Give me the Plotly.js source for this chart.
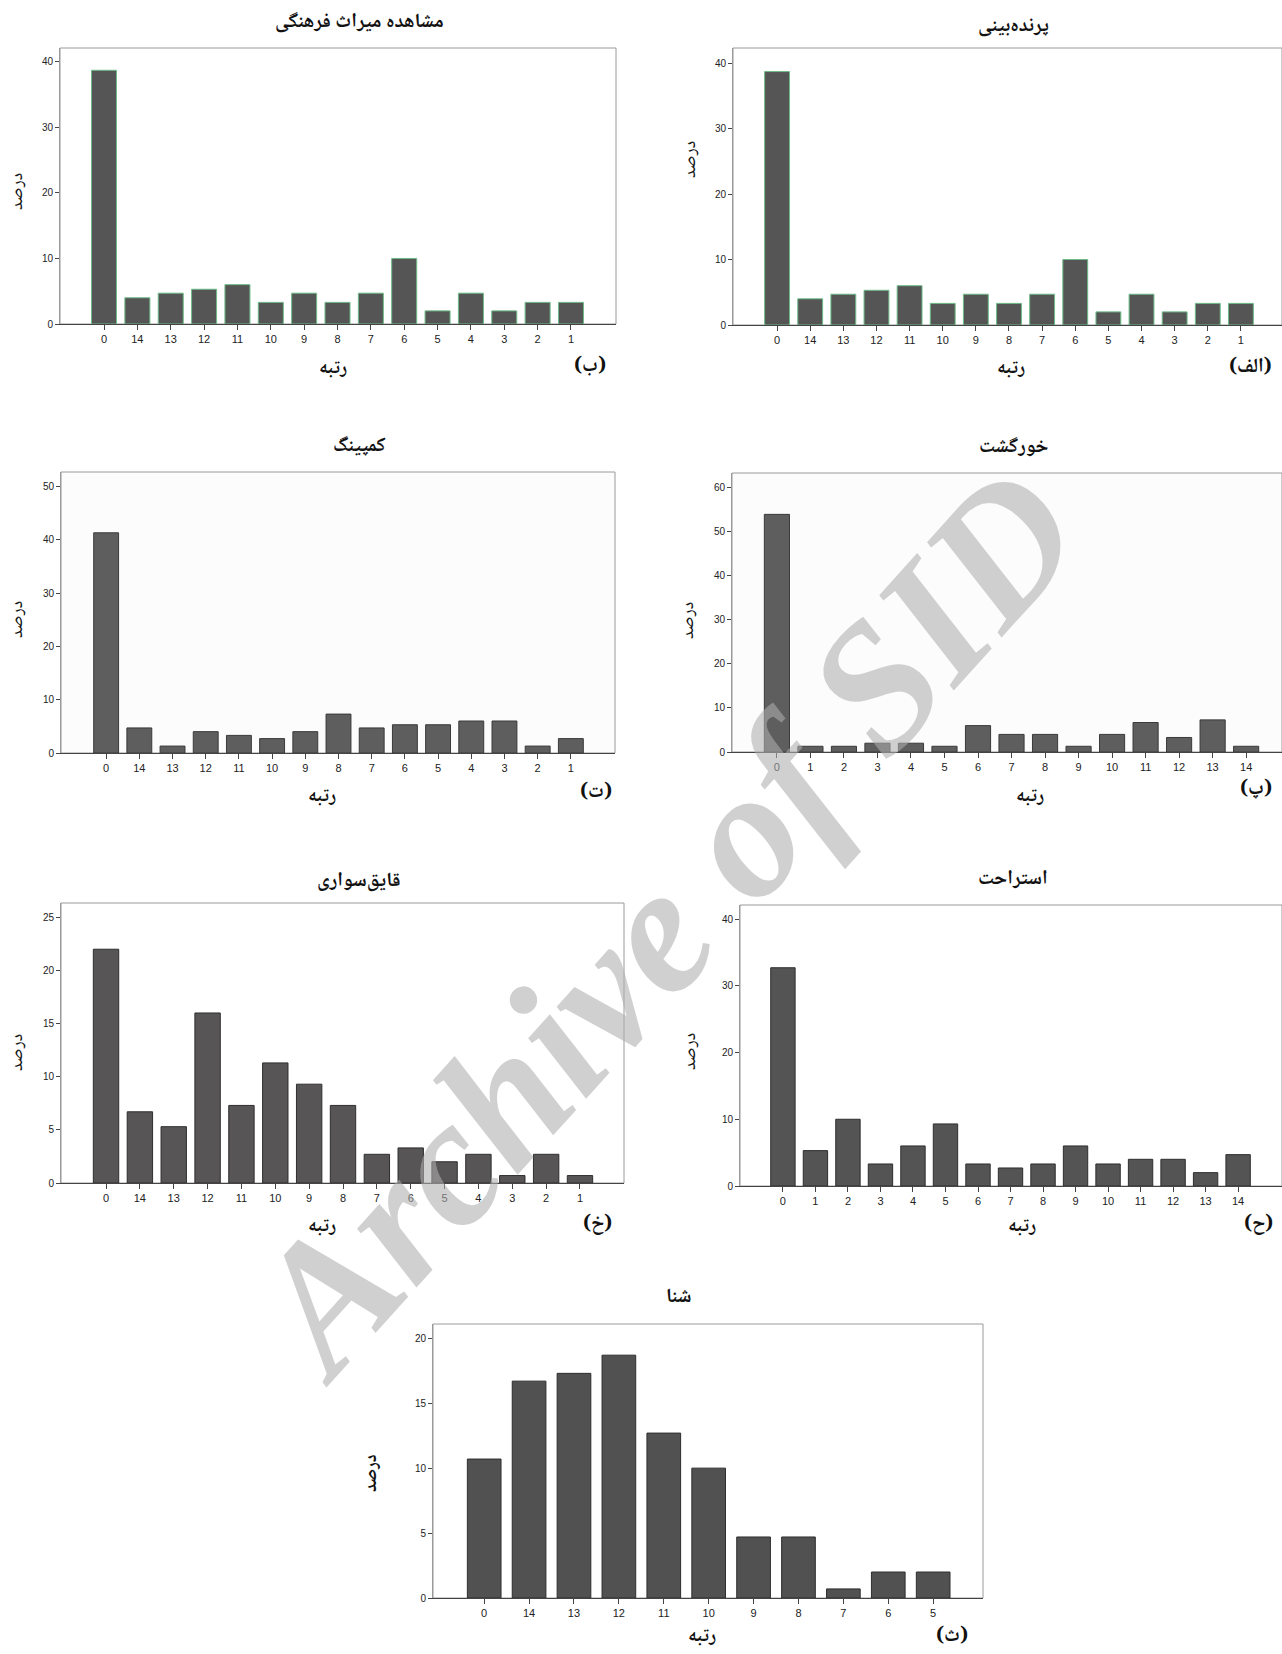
<!DOCTYPE html>
<html>
<head>
<meta charset="utf-8">
<script src="https://cdn.plot.ly/plotly-3.0.1.min.js"></script>
<style>html,body{margin:0;padding:0;background:#fff;}#chart{width:1282px;height:1654px;}</style>
</head>
<body>
<div id="chart"></div>
<script>
// ---- data ----
const descCats = ['0','14','13','12','11','10','9','8','7','6','5','4','3','2','1'];
const ascCats = ['0','1','2','3','4','5','6','7','8','9','10','11','12','13','14'];

const heritageCats = descCats;
const heritageVals = [38.7,4.0,4.7,5.3,6.0,3.3,4.7,3.3,4.7,10.0,2.0,4.7,2.0,3.3,3.3];

const birdCats = descCats;
const birdVals = [38.7,4.0,4.7,5.3,6.0,3.3,4.7,3.3,4.7,10.0,2.0,4.7,2.0,3.3,3.3];

const campingCats = descCats;
const campingVals = [41.3,4.7,1.3,4.0,3.3,2.7,4.0,7.3,4.7,5.3,5.3,6.0,6.0,1.3,2.7];

const tourCats = ascCats;
const tourVals = [54.0,1.3,1.3,2.0,2.0,1.3,6.0,4.0,4.0,1.3,4.0,6.7,3.3,7.3,1.3];

const boatCats = descCats;
const boatVals = [22.0,6.7,5.3,16.0,7.3,11.3,9.3,7.3,2.7,3.3,2.0,2.7,0.7,2.7,0.7];

const restCats = ascCats;
const restVals = [32.7,5.3,10.0,3.3,6.0,9.3,3.3,2.7,3.3,6.0,3.3,4.0,4.0,2.0,4.7];

const swimCats = ['0','14','13','12','11','10','9','8','7','6','5'];
const swimVals = [10.7,16.7,17.3,18.7,12.7,10.0,4.7,4.7,0.7,2.0,2.0];

const titles = ['مشاهده میراث فرهنگی','پرنده‌بینی','کمپینگ','خورگشت','قایق‌سواری','استراحت','شنا'];
const panelLabels = ['(ب)','(الف)','(ت)','(پ)','(خ)','(ح)','(ث)'];
const xTitle = 'رتبه';
const yTitle = 'درصد';
const yTicks = [[0,10,20,30,40],[0,10,20,30,40],[0,10,20,30,40,50],[0,10,20,30,40,50,60],[0,5,10,15,20,25],[0,10,20,30,40],[0,5,10,15,20]];

// ---- layout geometry (pixels) ----
const W = 1282, H = 1654;
const panels = [
  {cats:heritageCats, vals:heritageVals, box:[60,616,48,324],  xr:[-1.32,15.35], yr:[0,42.1], fill:'#555555', edge:'#6dbb88', bg:'#ffffff',
   title:[359,23], xt:[333,369], lab:[590,367], yt:[18,192]},
  {cats:birdCats, vals:birdVals, box:[733,1282,48,325], xr:[-1.33,15.24], yr:[0,42.3], fill:'#555555', edge:'#6dbb88', bg:'#ffffff',
   title:[1013,27], xt:[1011,369], lab:[1250,368], yt:[691,160]},
  {cats:campingCats, vals:campingVals, box:[61,615,472,753], xr:[-1.36,15.33], yr:[0,52.7], fill:'#5e5e5e', edge:'#3a3a3a', bg:'#fcfcfc',
   title:[359,447], xt:[322,797], lab:[596,793], yt:[18,620]},
  {cats:tourCats, vals:tourVals, box:[732,1282,473,752], xr:[-1.34,15.07], yr:[0,63.4], fill:'#5e5e5e', edge:'#3a3a3a', bg:'#fcfcfc',
   title:[1013,448], xt:[1030,797], lab:[1256,790], yt:[689,620]},
  {cats:boatCats, vals:boatVals, box:[61,624,903,1183], xr:[-1.33,15.3], yr:[0,26.35], fill:'#585556', edge:'#2e2e2e', bg:'#ffffff',
   title:[359,882], xt:[322,1227], lab:[597,1225], yt:[18,1053]},
  {cats:restCats, vals:restVals, box:[740,1282,905,1186], xr:[-1.32,15.35], yr:[0,42.1], fill:'#545454', edge:'#2e2e2e', bg:'#ffffff',
   title:[1013,880], xt:[1022,1227], lab:[1258,1225], yt:[691,1052]},
  {cats:swimCats, vals:swimVals, box:[433,983,1324,1598], xr:[-1.14,11.11], yr:[0,21.1], fill:'#525152', edge:'#2e2e2e', bg:'#ffffff',
   title:[679,1298], xt:[702,1637], lab:[952,1637], yt:[372,1473], boldY:true}
];

const arabicFont = 'Noto Naskh Arabic, DejaVu Sans, sans-serif';
const tickFont = {family:'Liberation Sans Narrow, Arial Narrow, Liberation Sans, Arial, sans-serif', size:11, color:'#222'};

const traces = [];
const layout = {
  width: W, height: H,
  margin: {l:0, r:0, t:0, b:0},
  paper_bgcolor: '#ffffff',
  showlegend: false,
  annotations: [],
  shapes: []
};

const px = x => x / W;
const py = y => 1 - y / H;

panels.forEach((p, i) => {
  const n = i + 1;
  const xa = n === 1 ? 'x' : 'x' + n;
  const ya = n === 1 ? 'y' : 'y' + n;
  traces.push({
    type: 'bar', x: p.cats, y: p.vals, xaxis: xa, yaxis: ya,
    width: 0.75,
    marker: {color: p.fill, line: {color: p.edge, width: 1}},
    hoverinfo: 'x+y'
  });
  const xKey = n === 1 ? 'xaxis' : 'xaxis' + n;
  const yKey = n === 1 ? 'yaxis' : 'yaxis' + n;
  layout[xKey] = {
    domain: [px(p.box[0]), Math.min(1, px(p.box[1]))],
    anchor: ya, type: 'category', range: p.xr,
    showgrid: false, zeroline: false,
    showline: true, linecolor: '#444', linewidth: 1, mirror: false,
    ticks: 'outside', ticklen: 5, tickcolor: '#444',
    tickfont: tickFont, fixedrange: true
  };
  layout[yKey] = {
    domain: [py(p.box[3]), py(p.box[2])],
    anchor: xa, range: p.yr,
    tickvals: yTicks[i],
    showgrid: false, zeroline: false,
    showline: true, linecolor: '#999', linewidth: 1, mirror: false,
    ticks: 'outside', ticklen: 4, tickcolor: '#444',
    tickfont: {family: tickFont.family, size: 10, color: '#222'}, fixedrange: true
  };
  layout.shapes.push({type:'rect', xref:'paper', yref:'paper', layer:'below',
    x0: px(p.box[0]), x1: px(p.box[1]), y0: py(p.box[3]), y1: py(p.box[2]),
    line: {color:'#9a9a9a', width:1}, fillcolor: p.bg});
  layout.annotations.push({text:'<b>' + titles[i] + '</b>', xref:'paper', yref:'paper',
    x: px(p.title[0]), y: py(p.title[1]), xanchor:'center', yanchor:'middle', showarrow:false,
    font:{family: arabicFont, size:20, color:'#111'}});
  layout.annotations.push({text:'<b>' + xTitle + '</b>', xref:'paper', yref:'paper',
    x: px(p.xt[0]), y: py(p.xt[1]), xanchor:'center', yanchor:'middle', showarrow:false,
    font:{family: arabicFont, size:19, color:'#111'}});
  layout.annotations.push({text:'<b>' + panelLabels[i] + '</b>', xref:'paper', yref:'paper',
    x: px(p.lab[0]), y: py(p.lab[1]), xanchor:'center', yanchor:'middle', showarrow:false,
    font:{family: arabicFont, size:20, color:'#111'}});
  layout.annotations.push({text: p.boldY ? '<b>' + yTitle + '</b>' : yTitle, xref:'paper', yref:'paper',
    x: px(p.yt[0]), y: py(p.yt[1]), xanchor:'center', yanchor:'middle', showarrow:false, textangle:-90,
    font:{family: arabicFont, size:18, color:'#111'}});
});

// watermark
layout.annotations.push({text:'<b><i>Archive of SID</i></b>', xref:'paper', yref:'paper',
  x: px(662), y: py(922), xanchor:'center', yanchor:'middle', showarrow:false, textangle:-48,
  font:{family:'Liberation Serif, Times New Roman, serif', size:182, color:'rgba(174,174,174,0.58)'}});

Plotly.newPlot('chart', traces, layout, {staticPlot:true, displayModeBar:false});
</script>
</body>
</html>
